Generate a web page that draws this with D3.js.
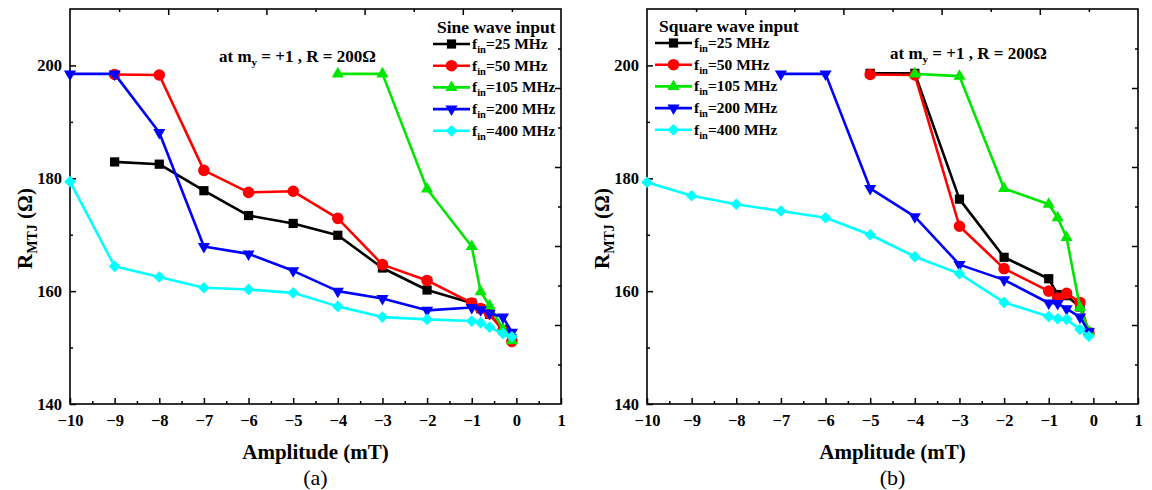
<!DOCTYPE html>
<html>
<head>
<meta charset="utf-8">
<script src="https://cdn.jsdelivr.net/npm/d3@7"></script>
<style>
  body { margin: 0; background: #fff; }
  svg, svg text { font-family: "Liberation Serif", "Times New Roman", Times, serif; }
</style>
</head>
<body>
<div id="chart"></div>
<script>
// ---- data ----
var ampFull = [-10, -9, -8, -7, -6, -5, -4, -3, -2, -1, -0.8, -0.6, -0.3, -0.1]

// (a) sine wave input
var sine25x = [-9, -8, -7, -6, -5, -4, -3, -2, -1, -0.8, -0.6, -0.3, -0.1]
var sine25y = [182.9, 182.5, 177.8, 173.4, 172.0, 169.9, 164.1, 160.2, 157.9, 156.9, 155.9, 153.2, 151.6]
var sine50x = [-9, -8, -7, -6, -5, -4, -3, -2, -1, -0.8, -0.6, -0.3, -0.1]
var sine50y = [198.4, 198.3, 181.4, 177.5, 177.7, 172.9, 164.7, 161.9, 157.9, 156.9, 156.0, 153.0, 151.1]
var sine105x = [-4, -3, -2, -1, -0.8, -0.6, -0.3, -0.1]
var sine105y = [198.5, 198.5, 178.1, 167.9, 159.9, 157.4, 153.3, 151.2]
var sine200x = ampFull
var sine200y = [198.5, 198.5, 188.1, 167.9, 166.6, 163.6, 160.0, 158.7, 156.6, 157.1, 156.7, 156.1, 155.4, 152.7]
var sine400x = ampFull
var sine400y = [179.4, 164.4, 162.5, 160.6, 160.3, 159.7, 157.3, 155.4, 155.0, 154.7, 154.4, 153.6, 152.5, 151.9]

// (b) square wave input
var sq25x = [-5, -4, -3, -2, -1, -0.8, -0.6, -0.3, -0.1]
var sq25y = [198.6, 198.6, 176.3, 166.0, 162.2, 159.4, 159.2, 157.2, 152.7]
var sq50x = [-5, -4, -3, -2, -1, -0.8, -0.6, -0.3, -0.1]
var sq50y = [198.4, 198.3, 171.5, 164.0, 160.0, 158.8, 159.6, 158.0, 152.6]
var sq105x = [-4, -3, -2, -1, -0.8, -0.6, -0.3, -0.1]
var sq105y = [198.5, 198.1, 178.2, 175.4, 173.0, 169.5, 157.1, 152.8]
var sq200x = [-7, -6, -5, -4, -3, -2, -1, -0.8, -0.6, -0.3, -0.1]
var sq200y = [198.5, 198.5, 178.2, 173.2, 164.7, 162.0, 157.9, 157.8, 156.9, 155.4, 152.8]
var sq400x = ampFull
var sq400y = [179.3, 176.9, 175.4, 174.2, 173.0, 170.0, 166.1, 163.1, 158.0, 155.5, 155.1, 155.0, 153.2, 152.0]

var freqLabels = ['25 MHz', '50 MHz', '105 MHz', '200 MHz', '400 MHz']
var colors = ['#000000', '#ff0000', '#00e600', '#0000ff', '#00ffff']
var shapes = ['square', 'circle', 'up', 'down', 'diamond']

var xTicks = [-10, -9, -8, -7, -6, -5, -4, -3, -2, -1, 0, 1]
var xMinor = d3.range(-9.5, 1, 1)
var yTicks = [140, 160, 180, 200]
var yMinor = [150, 170, 190]

// ---- layout ----
var W = 1152, H = 490
var pw = 491, ph = 395
var serif = '"Liberation Serif", "Times New Roman", Times, serif'
var svg = d3.select('#chart').append('svg')
    .attr('width', W)
    .attr('height', H)
    .attr('font-family', serif)

function symbolPath(shape) {
  if (shape == 'square') return d3.symbol(d3.symbolSquare, 85)()
  if (shape == 'circle') return d3.symbol(d3.symbolCircle, 105)()
  if (shape == 'up') return d3.symbol(d3.symbolTriangle, 64)()
  if (shape == 'down') return d3.symbol(d3.symbolTriangle, 64)()
  return d3.symbol(d3.symbolSquare, 68)()
}
function symbolRot(shape) {
  if (shape == 'down') return ' rotate(180)'
  if (shape == 'diamond') return ' rotate(45)'
  return ''
}

function drawPanel(ox, oy, series, title, legendX, legendY, noteX, noteY, letter) {
  var g = svg.append('g').attr('transform', 'translate(' + ox + ',' + oy + ')')

  var x = d3.scaleLinear().domain([-10, 1]).range([0, pw])
  var y = d3.scaleLinear().domain([140, 210]).range([ph, 0])
  var xTop = d3.scaleLinear().domain([0, 10]).range([0, pw])
  var yRight = d3.scaleLinear().domain([0, 10]).range([ph, 0])

  // bottom axis
  g.append('g').attr('transform', 'translate(0,' + ph + ')')
    .call(d3.axisBottom(x).tickValues(xTicks).tickSize(-6).tickPadding(10).tickFormat(d3.format('d')))
  g.append('g').attr('transform', 'translate(0,' + ph + ')')
    .call(d3.axisBottom(x).tickValues(xMinor).tickSize(-3).tickFormat(''))
  // left axis
  g.append('g')
    .call(d3.axisLeft(y).tickValues(yTicks).tickSize(-6).tickPadding(8))
  g.append('g')
    .call(d3.axisLeft(y).tickValues(yMinor).tickSize(-3).tickFormat(''))
  // top and right axes (mirror ticks)
  g.append('g')
    .call(d3.axisTop(xTop).tickValues(d3.range(1, 10, 2)).tickSize(-3).tickFormat(''))
  g.append('g')
    .call(d3.axisTop(xTop).tickValues(d3.range(2, 10, 2)).tickSize(-6).tickFormat(''))
  g.append('g').attr('transform', 'translate(' + pw + ',0)')
    .call(d3.axisRight(yRight).tickValues(d3.range(1, 10, 2)).tickSize(-3).tickFormat(''))
  g.append('g').attr('transform', 'translate(' + pw + ',0)')
    .call(d3.axisRight(yRight).tickValues(d3.range(2, 10, 2)).tickSize(-6).tickFormat(''))

  g.selectAll('.domain').remove()
  g.selectAll('g').attr('font-family', serif)
  g.selectAll('.tick line').attr('stroke', '#000').attr('stroke-width', 1.5)
  g.selectAll('.tick text')
    .style('font-weight', 'bold')
    .style('font-size', '16.5px')
    .attr('fill', '#000')

  g.append('rect')
    .attr('width', pw).attr('height', ph)
    .attr('fill', 'none').attr('stroke', '#000').attr('stroke-width', 1.6)

  // lines + markers
  var line = d3.line().x(function (d) { return x(d[0]) }).y(function (d) { return y(d[1]) })
  series.forEach(function (s, i) {
    var pts = s.x.map(function (v, j) { return [v, s.y[j]] })
    g.append('path').datum(pts)
      .attr('d', line)
      .attr('fill', 'none')
      .attr('stroke', colors[i])
      .attr('stroke-width', 2.6)
      .attr('stroke-linejoin', 'round')
    g.selectAll('.m' + i).data(pts).enter()
      .append('path')
      .attr('class', 'm' + i)
      .attr('d', symbolPath(shapes[i]))
      .attr('transform', function (d) { return 'translate(' + x(d[0]) + ',' + y(d[1]) + ')' + symbolRot(shapes[i]) })
      .attr('fill', colors[i])
  })

  // legend
  var lg = svg.append('g').attr('transform', 'translate(' + legendX + ',' + legendY + ')')
    .style('font-weight', 'bold')
  lg.append('text')
    .attr('x', 4).attr('y', -11)
    .style('font-size', '17.5px')
    .text(title)
  freqLabels.forEach(function (lab, i) {
    var row = lg.append('g').attr('transform', 'translate(0,' + (i * 21.7) + ')')
    row.append('line').attr('x1', 0).attr('x2', 37).attr('y1', 0).attr('y2', 0)
      .attr('stroke', colors[i]).attr('stroke-width', 2.6)
    row.append('path').attr('d', symbolPath(shapes[i]))
      .attr('transform', 'translate(18.5,0)' + symbolRot(shapes[i]))
      .attr('fill', colors[i])
    var t = row.append('text').attr('x', 39).attr('y', 5).style('font-size', '15.5px')
    t.append('tspan').text('f')
    t.append('tspan').attr('dy', 4).style('font-size', '10.5px').text('in')
    t.append('tspan').attr('dy', -4).text('=' + lab)
  })

  // annotation
  var note = svg.append('text')
    .attr('x', noteX).attr('y', noteY)
    .style('font-weight', 'bold').style('font-size', '17px')
  note.append('tspan').text('at m')
  note.append('tspan').attr('dy', 4).style('font-size', '11px').text('y')
  note.append('tspan').attr('dy', -4).text(' = +1 , R = 200\u03A9')

  // axis titles
  svg.append('text')
    .attr('x', ox + x(-4.5)).attr('y', 459)
    .attr('text-anchor', 'middle')
    .style('font-weight', 'bold').style('font-size', '21px')
    .text('Amplitude (mT)')
  svg.append('text')
    .attr('x', ox + x(-4.5)).attr('y', 485)
    .attr('text-anchor', 'middle')
    .style('font-size', '22px')
    .text(letter)

  var yt = svg.append('text')
    .attr('transform', 'translate(' + (ox - 38) + ',' + (oy + ph / 2 + 22) + ') rotate(-90)')
    .attr('text-anchor', 'middle')
    .style('font-weight', 'bold').style('font-size', '21px')
  yt.append('tspan').text('R')
  yt.append('tspan').attr('dy', 5).style('font-size', '14px').text('MTJ')
  yt.append('tspan').attr('dy', -5).text(' (\u03A9)')
}

var sineSeries = [
  { x: sine25x, y: sine25y }, { x: sine50x, y: sine50y }, { x: sine105x, y: sine105y },
  { x: sine200x, y: sine200y }, { x: sine400x, y: sine400y }
]
var squareSeries = [
  { x: sq25x, y: sq25y }, { x: sq50x, y: sq50y }, { x: sq105x, y: sq105y },
  { x: sq200x, y: sq200y }, { x: sq400x, y: sq400y }
]

drawPanel(70, 9, sineSeries, 'Sine wave input', 433, 44, 219, 62, '(a)')
drawPanel(647, 9, squareSeries, 'Square wave input', 655, 43, 890, 59, '(b)')
</script>
</body>
</html>
